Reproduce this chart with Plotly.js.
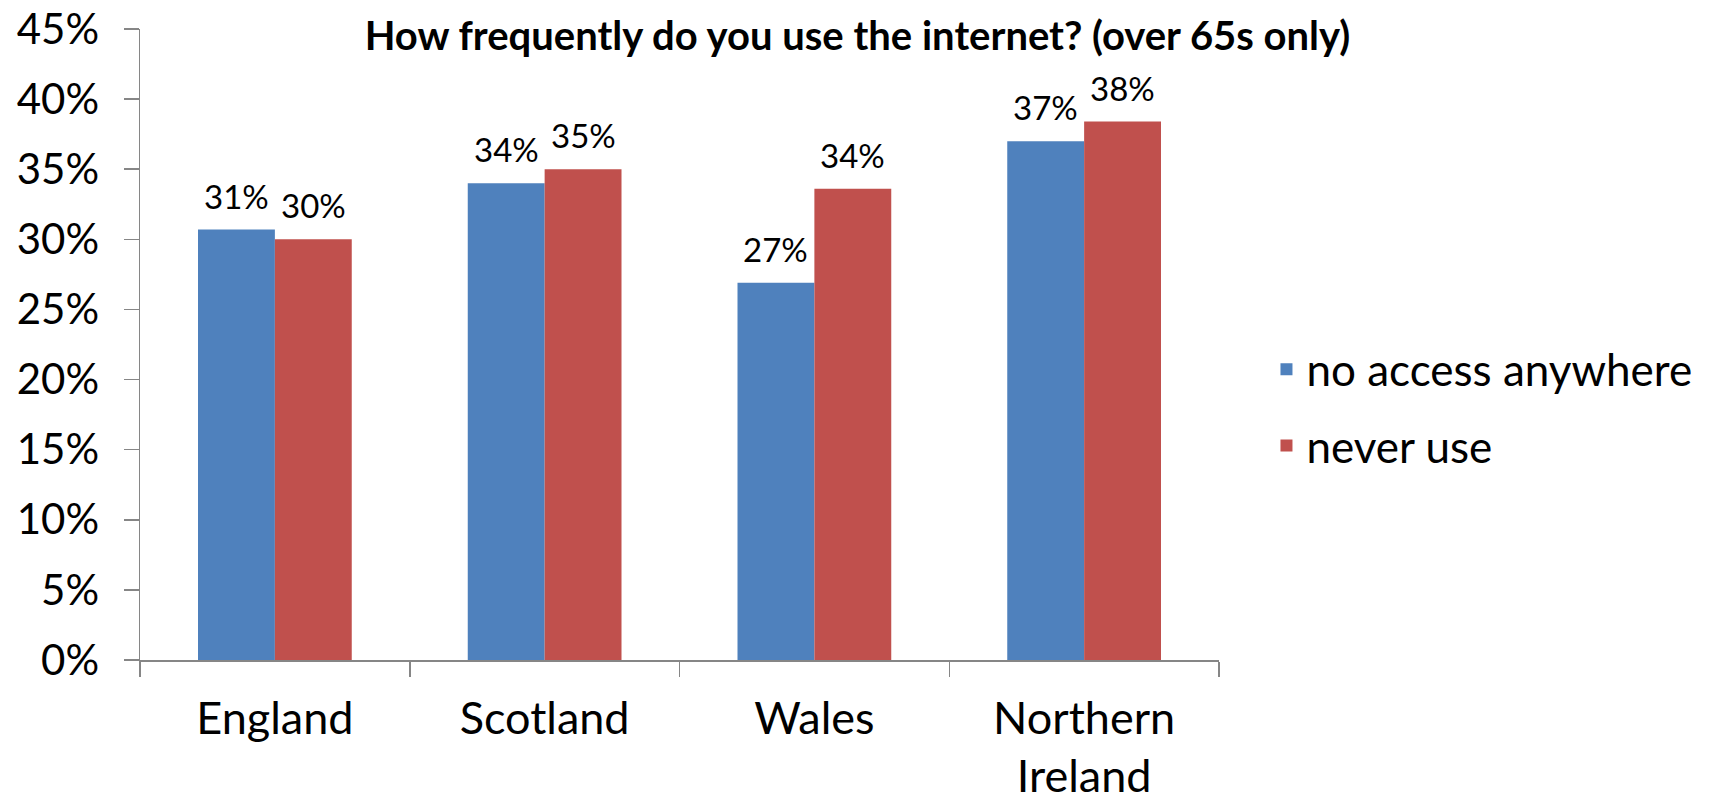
<!DOCTYPE html>
<html>
<head>
<meta charset="utf-8">
<script src="https://cdn.plot.ly/plotly-3.0.1.min.js"></script>
<style>html,body{margin:0;padding:0;background:#fff;}#chart{width:1715px;height:798px;}</style>
</head>
<body>
<div id="chart"></div>
<script>
const categories = ["England", "Scotland", "Wales", "Northern Ireland"];
const tickLabels = ["England", "Scotland", "Wales", "Northern<br>Ireland"];
const noAccess = [0.307, 0.340, 0.269, 0.370];
const neverUse = [0.300, 0.350, 0.336, 0.384];
const seriesNames = ["no access anywhere", "never use"];
const yTicks = [0, 0.05, 0.10, 0.15, 0.20, 0.25, 0.30, 0.35, 0.40, 0.45];
const titleText = "How frequently do you use the internet? (over 65s only)";

const FONT = "Lato, 'Open Sans', sans-serif";
const colors = ["#4F81BD", "#C0504D"];
const W = 1715, H = 798;
const margin = {l: 140, r: 496, t: 29, b: 138};
const bargap = 0.43;
const plotW = W - margin.l - margin.r;
const barPx = plotW / categories.length * (1 - bargap) / 2;

const traces = [noAccess, neverUse].map((vals, i) => ({
  type: "bar",
  x: categories,
  y: vals,
  name: seriesNames[i],
  legendgroup: "g" + i,
  marker: {color: colors[i]},
  hoverinfo: "skip"
}));

const annotations = [];
[noAccess, neverUse].forEach((vals, i) => {
  vals.forEach((v, j) => {
    annotations.push({
      x: categories[j], y: v, xref: "x", yref: "y",
      text: Math.round(v * 100) + "%",
      showarrow: false, yanchor: "bottom",
      xshift: (i === 0 ? -1 : 1) * barPx / 2,
      yshift: 12,
      font: {family: FONT, size: 33, color: "#000"}
    });
  });
});

const layout = {
  width: W, height: H,
  margin: margin,
  paper_bgcolor: "#fff", plot_bgcolor: "#fff",
  barmode: "group", bargap: bargap, bargroupgap: 0,
  showlegend: true,
  title: {
    text: "<b>" + titleText + "</b>",
    font: {family: FONT, size: 40, color: "#000"},
    xref: "container", x: 0.5, xanchor: "center",
    yref: "container", y: 1 - 36 / H, yanchor: "middle"
  },
  xaxis: {
    type: "category",
    tickmode: "array", tickvals: categories, ticktext: tickLabels,
    tickson: "boundaries",
    ticks: "outside", ticklen: 15, tickcolor: "#868686", tickwidth: 1.5,
    showline: true, linecolor: "#868686", linewidth: 1.5,
    showgrid: false, zeroline: false,
    tickfont: {family: FONT, size: 45, color: "#000"},
    ticklabelstandoff: 18,
    fixedrange: true
  },
  yaxis: {
    range: [0, 0.45],
    tickmode: "array", tickvals: yTicks,
    tickformat: ".0%",
    ticks: "outside", ticklen: 15, tickcolor: "#868686", tickwidth: 1.5,
    showline: true, linecolor: "#868686", linewidth: 1.5,
    showgrid: false, zeroline: false,
    tickfont: {family: FONT, size: 42, color: "#000"},
    ticklabelstandoff: 16,
    fixedrange: true
  },
  legend: {
    x: 1.044, xanchor: "left",
    y: 0.40, yanchor: "middle",
    traceorder: "grouped",
    tracegroupgap: 16,
    font: {family: FONT, size: 44, color: "#000"},
    bgcolor: "rgba(0,0,0,0)"
  },
  annotations: annotations
};

Plotly.newPlot("chart", traces, layout, {displayModeBar: false, staticPlot: true});
</script>
</body>
</html>
